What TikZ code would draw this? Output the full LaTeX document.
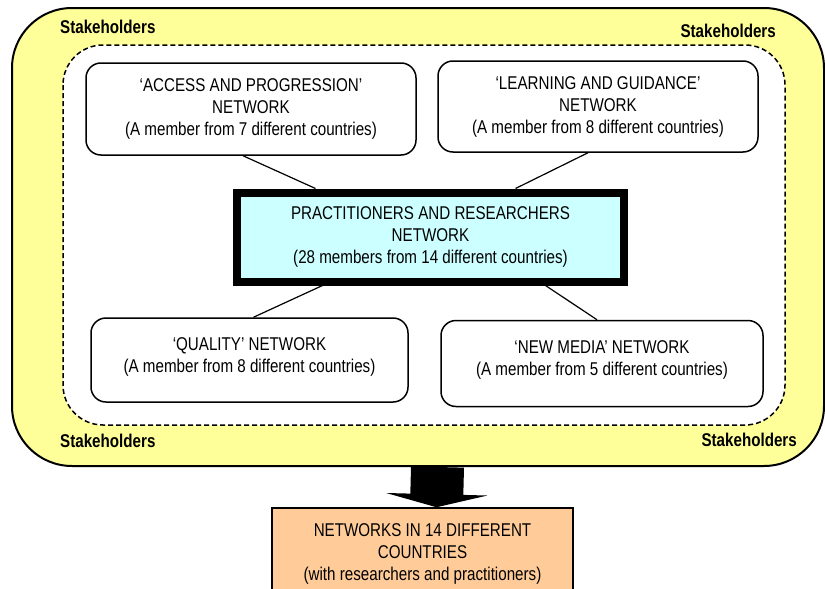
\documentclass[tikz,border=0pt]{standalone}
\usepackage{fontspec}
\newfontfamily\narrowfont[FakeStretch=0.82]{Liberation Sans}
\usetikzlibrary{arrows.meta}
\definecolor{stakeyellow}{HTML}{FFFF99}
\definecolor{corecyan}{HTML}{CCFFFF}
\definecolor{natorange}{HTML}{FFCC99}
\begin{document}
\begin{tikzpicture}[
    x=1pt, y=-1pt,
    font=\narrowfont\fontsize{18.5}{22}\selectfont,
    netbox/.style={draw, line width=1.5pt, rounded corners=15pt, fill=white, align=center},
    core/.style={draw, line width=8pt, fill=corecyan, align=center, minimum width=387pt, minimum height=89pt},
    stakelabel/.style={font=\narrowfont\bfseries\fontsize{18.5}{20}\selectfont, inner sep=0pt},
    link/.style={line width=1.2pt}
    ]
\useasboundingbox (0,0) rectangle (825,589);

% Stakeholder ring and inner network area
\node[draw, line width=2pt, fill=stakeyellow, rounded corners=60pt,
      minimum width=812pt, minimum height=458pt] (stake) at (418,237) {};
\draw[dashed, dash pattern=on 5pt off 3pt, line width=1.5pt, fill=white, rounded corners=40pt]
    (63,45) rectangle (785,425);

\node[stakelabel, anchor=west] (shtl) at (60,27)  {Stakeholders};
\node[stakelabel, anchor=east] (shtr) at (776,31) {Stakeholders};
\node[stakelabel, anchor=west] (shbl) at (60,441) {Stakeholders};
\node[stakelabel, anchor=east] (shbr) at (797,440) {Stakeholders};

% Central network and thematic networks
\node[core] (prn) at (430.5,237) {PRACTITIONERS AND RESEARCHERS\\NETWORK\\(28 members from 14 different countries)};

\node[netbox, minimum width=330pt, minimum height=92pt] (access) at (251,109)
    {‘ACCESS AND PROGRESSION’\\NETWORK\\(A member from 7 different countries)};
\node[netbox, minimum width=320pt, minimum height=91pt] (guide) at (598,106.5)
    {‘LEARNING AND GUIDANCE’\\NETWORK\\(A member from 8 different countries)};
\node[netbox, minimum width=317pt, minimum height=84pt] (quality) at (249.5,360)
    {‘QUALITY’ NETWORK\\(A member from 8 different countries)\\[-12pt]};
\node[netbox, minimum width=322pt, minimum height=86pt] (media) at (602,363.5)
    {‘NEW MEDIA’ NETWORK\\(A member from 5 different countries)\\[-12pt]};

% National networks
\node[draw, line width=1.5pt, fill=natorange, align=center,
      minimum width=301pt, minimum height=92pt] (national) at (422.5,554)
    {NETWORKS IN 14 DIFFERENT\\COUNTRIES\\(with researchers and practitioners)};

% Links
\draw[link] ([xshift=-8pt]access.south) -- ([xshift=-115pt]prn.north);
\draw[link] ([xshift=-10pt]guide.south) -- ([xshift=85pt]prn.north);
\draw[link] ([xshift=-108pt]prn.south) -- ([xshift=4pt]quality.north);
\draw[link] ([xshift=115pt]prn.south) -- ([xshift=-5pt]media.north);

% Block arrow down
\draw[line width=53pt, -{Triangle[width=101pt, length=13pt]}]
    ([xshift=19.5pt]stake.south) -- ([xshift=14pt]national.north);

\end{tikzpicture}
\end{document}
